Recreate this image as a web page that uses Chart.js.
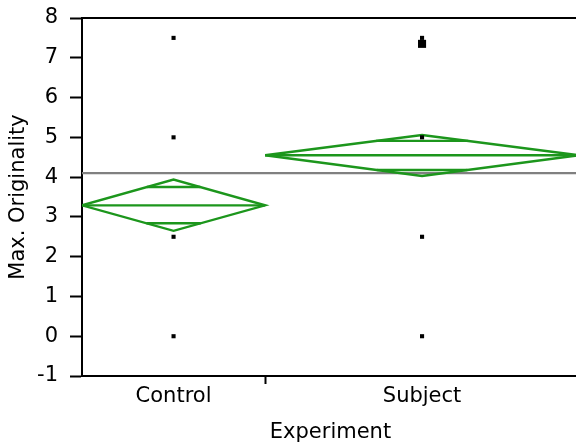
<!DOCTYPE html>
<html>
<head>
<meta charset="utf-8">
<script src="https://cdn.jsdelivr.net/npm/chart.js@4"></script>
<style>
  html, body { margin: 0; padding: 0; background: #fff; overflow: hidden; width: 576px; height: 446px; }
  /* wider than the window: the plot's right edge runs just past the frame, as in the reference */
  #wrap { width: 600px; height: 446px; }
</style>
</head>
<body>
<div id="wrap"><canvas id="graph01"></canvas></div>
<script>
// groups on the x axis, widths proportional to group size
const groups = ["Control", "Subject"];
const groupCounts = [7, 12];

// raw observations
const controlValues = [7.5, 5, 2.5, 0];
const subjectValues = [7.5, 5, 2.5, 0];
const subjectCluster = [7.35]; // several overlapping points

// means diamonds (mean, 95% CI, overlap marks)
const groupMeans = [3.29, 4.55];
const ciUpper = [3.94, 5.06];
const ciLower = [2.65, 4.03];
const overlapUpper = [3.75, 4.91];
const overlapLower = [2.84, 4.18];
const grandMean = 4.1;

const green = "rgb(28, 150, 28)";
const FONT = { family: "'DejaVu Sans', sans-serif", size: 21 };

// category boundaries on a linear x scale
var bounds = [0];
groupCounts.forEach((n, i) => bounds.push(bounds[i] + n));
const total = bounds[bounds.length - 1];
const centers = groups.map((g, i) => (bounds[i] + bounds[i + 1]) / 2);

function lineSet(pts, color, order) {
  return {
    type: "scatter",
    data: pts,
    showLine: true,
    borderColor: color,
    borderWidth: 2.4,
    pointRadius: 0,
    fill: false,
    order: order,
  };
}

var datasets = [];

// grand mean
datasets.push(lineSet([{ x: 0, y: grandMean }, { x: total, y: grandMean }], "#808080", 3));

groups.forEach((g, i) => {
  const l = bounds[i], r = bounds[i + 1], c = centers[i], m = groupMeans[i];
  const half = (r - l) / 2;
  // diamond outline
  datasets.push(lineSet([
    { x: l, y: m }, { x: c, y: ciUpper[i] }, { x: r, y: m },
    { x: c, y: ciLower[i] }, { x: l, y: m },
  ], green, 2));
  // mean line
  datasets.push(lineSet([{ x: l, y: m }, { x: r, y: m }], green, 2));
  // overlap marks, clipped to the diamond's width at that height
  const fu = 1 - (overlapUpper[i] - m) / (ciUpper[i] - m);
  datasets.push(lineSet([{ x: c - half * fu, y: overlapUpper[i] }, { x: c + half * fu, y: overlapUpper[i] }], green, 2));
  const fl = 1 - (m - overlapLower[i]) / (m - ciLower[i]);
  datasets.push(lineSet([{ x: c - half * fl, y: overlapLower[i] }, { x: c + half * fl, y: overlapLower[i] }], green, 2));
});

function pointSet(xv, vals, radius) {
  return {
    type: "scatter",
    data: vals.map((v) => ({ x: xv, y: v })),
    pointStyle: "rect",
    pointRadius: radius,
    pointBackgroundColor: "#000",
    pointBorderWidth: 0,
    order: 1,
  };
}
datasets.push(pointSet(centers[0], controlValues, 2.9));
datasets.push(pointSet(centers[1], subjectValues, 2.9));
datasets.push(pointSet(centers[1], subjectCluster, 5.7));

// top/right frame
const framePlugin = {
  id: "frame",
  afterDraw(chart) {
    const a = chart.chartArea;
    const ctx = chart.ctx;
    ctx.save();
    ctx.strokeStyle = "#000";
    ctx.lineWidth = 2;
    ctx.beginPath();
    ctx.moveTo(a.left, a.top);
    ctx.lineTo(a.right, a.top);
    ctx.lineTo(a.right, a.bottom);
    ctx.stroke();
    ctx.restore();
  },
};

Chart.defaults.color = "#000";

const myChart01 = new Chart(document.getElementById("graph01"), {
  type: "scatter",
  data: { datasets: datasets },
  plugins: [framePlugin],
  options: {
    responsive: true,
    maintainAspectRatio: false,
    animation: false,
    layout: { padding: { top: 18, right: 20, left: 0, bottom: 0 } },
    plugins: { legend: { display: false }, tooltip: { enabled: false } },
    scales: {
      x: {
        type: "linear",
        min: 0,
        max: total,
        afterFit: (scale) => {
          scale.height = 70;
          scale.paddingLeft = 0;
          scale.paddingRight = 0;
        },
        afterBuildTicks: (scale) => {
          scale.ticks = [{ value: centers[0] }, { value: bounds[1] }, { value: centers[1] }];
        },
        ticks: {
          font: FONT,
          padding: 0,
          maxRotation: 0,
          autoSkip: false,
          callback: (v) => {
            const i = centers.indexOf(v);
            return i >= 0 ? groups[i] : "";
          },
        },
        grid: {
          drawOnChartArea: false,
          tickLength: 8,
          tickWidth: 2,
          tickColor: (ctx) => (ctx.tick && ctx.tick.value === bounds[1] ? "#000" : "rgba(0,0,0,0)"),
        },
        border: { color: "#000", width: 2 },
        title: { display: true, text: "Experiment", font: FONT, padding: { top: 0, bottom: 1 } },
      },
      y: {
        type: "linear",
        min: -1,
        max: 8,
        afterFit: (scale) => {
          scale.width = 82;
          scale.paddingTop = 0;
          scale.paddingBottom = 0;
        },
        ticks: { stepSize: 1, padding: 12, font: FONT },
        grid: { drawOnChartArea: false, tickLength: 12, tickWidth: 2, tickColor: "#000" },
        border: { color: "#000", width: 2 },
        title: { display: true, text: "Max. Originality", font: FONT, padding: { top: 6, bottom: 0 } },
      },
    },
  },
});

// nudge the layout padding so the plot area lands at top 18 / right 579
const area = myChart01.chartArea;
myChart01.options.layout = {
  padding: { top: 18 + 18 - area.top, right: 20 + area.right - 579, left: 0, bottom: 0 },
};
myChart01.update();
</script>
</body>
</html>
